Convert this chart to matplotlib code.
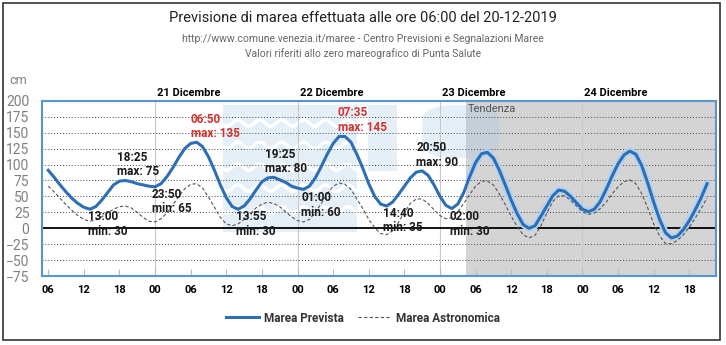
"""
Previsione di marea (Venezia, 20-12-2019): marea prevista vs astronomica.
"""
import numpy as np
import matplotlib
matplotlib.use("Agg")
import matplotlib.pyplot as plt
from matplotlib.patches import Rectangle, FancyBboxPatch
from matplotlib.lines import Line2D

# hours counted from 00:00 of 20 Dec 2019, values in cm
hours = list(range(6, 118))
marea_prevista = [
    91, 80, 68, 57, 47, 39, 33, 30, 34, 44, 56, 68,
    74, 75, 73, 70, 68, 66, 65, 70, 81, 95, 111, 125,
    133, 135, 128, 112, 91, 68, 48, 34, 30, 35, 46, 60,
    73, 79, 80, 76, 72, 66, 63, 61, 66, 79, 97, 116,
    133, 144, 144, 135, 116, 94, 70, 50, 38, 35, 41, 53,
    66, 79, 88, 90, 83, 68, 50, 36, 31, 38, 56, 81,
    103, 117, 119, 110, 91, 68, 44, 23, 6, 0, 4, 19,
    35, 51, 60, 58, 50, 40, 30, 26, 30, 42, 61, 82,
    101, 115, 121, 116, 98, 71, 41, 14, -7, -15, -12, -2,
    12, 29, 48, 70,
]
marea_astronomica = [
    66, 57, 47, 37, 28, 20, 14, 11, 13, 18, 24, 30,
    34, 35, 32, 25, 17, 11, 10, 15, 24, 37, 50, 62,
    69, 70, 63, 49, 33, 17, 7, 4, 7, 14, 23, 32,
    38, 41, 39, 34, 26, 18, 12, 10, 14, 25, 39, 54,
    66, 71, 69, 61, 46, 31, 14, 1, -8, -10, -4, 9,
    25, 39, 46, 46, 39, 29, 20, 15, 17, 26, 39, 53,
    66, 74, 74, 68, 54, 37, 19, 3, -10, -15, -11, 4,
    24, 42, 51, 51, 44, 35, 26, 22, 24, 31, 41, 54,
    65, 73, 76, 70, 54, 32, 7, -12, -24, -24, -19, -10,
    2, 16, 31, 48,
]

# labelled extremes of the forecast (day offset from 20 Dec)
ext_day = [0, 0, 0, 1, 1, 1, 2, 2, 2, 2, 3]
ext_time = ["13:00", "18:25", "23:50", "06:50", "13:55", "19:25",
            "01:00", "07:35", "14:40", "20:50", "02:00"]
ext_kind = ["min", "max", "min", "max", "min", "max",
            "min", "max", "min", "max", "min"]
ext_value = [30, 75, 65, 135, 30, 80, 60, 145, 35, 90, 30]

day_labels = ["21 Dicembre", "22 Dicembre", "23 Dicembre", "24 Dicembre"]
day_start = [24, 48, 72, 96]
tick_hours = list(range(6, 115, 6))
tendenza_start = 76.4

BLUE = "#2d6fb7"
RED = "#d7312b"


def main():
    plt.rcParams["font.family"] = ["Roboto", "DejaVu Sans"]

    W, H = 726, 345
    fig = plt.figure(figsize=(W / 100, H / 100), dpi=100)
    ax = fig.add_axes([42 / W, 1 - 276.2 / H, (716 - 42) / W, (276.2 - 100.7) / H])
    x0, x1 = 4.95, 118.5
    ax.set_xlim(x0, x1)
    ax.set_ylim(-75, 200)

    # forecast "tendenza" area
    ax.axvspan(tendenza_start, x1, color="#d4d4d4", lw=0, zorder=0)

    # faint logo in the background
    wm = dict(fc="#9fc4e8", ec="none", alpha=0.27, zorder=0.5)
    ax.add_patch(Rectangle((35.5, -6), 22.5, 199, **wm))
    tt = np.linspace(35.5, 58, 200)
    for v0 in [165, 130, 96, 63, 29]:
        ax.plot(tt, v0 + 5 * np.sin(tt * 2 * np.pi / 3.7), color="white", lw=2.5, zorder=0.6)
    ax.add_patch(Rectangle((59.8, 90), 5, 103, **wm))
    ax.add_patch(FancyBboxPatch((69, 110), 13, 83, boxstyle="round,pad=0,rounding_size=6",
                                mutation_aspect=4, **wm))

    # grid
    for v in range(-50, 200, 25):
        if v != 0:
            ax.axhline(v, color="#444444", lw=0.7, ls=(0, (1, 2)), zorder=1)
    for d in day_start:
        ax.axvline(d, color="#c8c8c8", lw=0.8, zorder=1)
    ax.axhline(0, color="black", lw=1.3, zorder=2)

    # curves
    k = next(i for i, h in enumerate(hours) if h >= tendenza_start)
    ax.plot(hours[k:], marea_prevista[k:], color="#b3d2ef", lw=5,
            solid_capstyle="round", zorder=3)
    ax.plot(hours, marea_astronomica, color="#555555", lw=0.8, ls=(0, (3, 2)), zorder=3)
    ax.plot(hours, marea_prevista, color=BLUE, lw=2.2, zorder=4)

    # extremes
    for day, tm, kind, val in zip(ext_day, ext_time, ext_kind, ext_value):
        hh, mm = map(int, tm.split(":"))
        h = 24 * day + hh + mm / 60
        col = RED if val >= 110 else "#1a1a1a"
        if kind == "max":
            off, va = (-5, 2), "bottom"
        else:
            off, va = (-2, -1), "top"
        ax.annotate(f"{tm}\n{kind}: {val}", xy=(h, val), xytext=off,
                    textcoords="offset pixels", ha="left", va=va,
                    fontsize=8.5, fontweight="semibold", color=col,
                    linespacing=1.15, zorder=5)

    for lbl, d in zip(day_labels, day_start):
        ax.annotate(lbl, xy=(d, 1), xycoords=("data", "axes fraction"),
                    xytext=(2, 3), textcoords="offset pixels",
                    ha="left", va="bottom", fontsize=8, fontweight="bold")
    ax.annotate("Tendenza", xy=(tendenza_start, 1), xycoords=("data", "axes fraction"),
                xytext=(2, -3), textcoords="offset pixels", ha="left", va="top",
                fontsize=8, color="#555555")

    # axes styling
    for sp in ax.spines.values():
        sp.set_color("#5b95cf")
        sp.set_linewidth(1.5)
    ax.set_xticks(tick_hours)
    ax.set_xticklabels([f"{h % 24:02d}" for h in tick_hours], fontweight="bold")
    ax.tick_params(axis="x", direction="in", length=5, color="#bbbbbb",
                   labelsize=8, pad=6)
    ax.set_yticks(range(-75, 201, 25))
    ax.tick_params(axis="y", length=0, labelsize=10, labelcolor="#808080", pad=9)

    # texts
    fig.text(0.5, 1 - 18.3 / H, "Previsione di marea effettuata alle ore 06:00 del 20-12-2019",
             ha="center", va="center", fontsize=10.5, color="#222222")
    fig.text(0.5, 1 - 39.5 / H,
             "http://www.comune.venezia.it/maree - Centro Previsioni e Segnalazioni Maree",
             ha="center", va="center", fontsize=7.5, color="#666666")
    fig.text(0.5, 1 - 53.5 / H, "Valori riferiti allo zero mareografico di Punta Salute",
             ha="center", va="center", fontsize=7.5, color="#666666")
    fig.text(18 / W, 1 - 80 / H, "cm", ha="center", va="center", fontsize=9, color="#808080")

    handles = [
        Line2D([], [], color=BLUE, lw=2.2, label="Marea Prevista"),
        Line2D([], [], color="#555555", lw=0.8, ls=(0, (3, 2)), label="Marea Astronomica"),
    ]
    fig.legend(handles=handles, loc="center", bbox_to_anchor=(0.5, 1 - 318 / H),
               ncol=2, frameon=False, prop=dict(weight="bold", size=8.5),
               handlelength=2.8, handletextpad=0.4, columnspacing=1.2, labelcolor="#333333")

    fig.patches.append(Rectangle((3 / W, 5 / H), 717 / W, 337 / H, transform=fig.transFigure,
                                 fill=False, ec="#333333", lw=1.2))

    fig.savefig("out.png", dpi=100)
    plt.close(fig)


if __name__ == "__main__":
    main()
